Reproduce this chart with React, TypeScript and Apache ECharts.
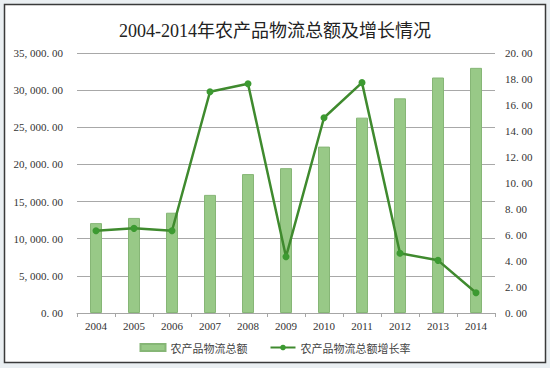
import React, { useEffect, useRef } from "react";
import * as echarts from "echarts";

const years = ["2004", "2005", "2006", "2007", "2008", "2009", "2010", "2011", "2012", "2013", "2014"];
const totalValues = [12100, 12800, 13500, 15900, 18700, 19500, 22400, 26300, 28900, 31700, 33000];
const growthRates = [6.33, 6.51, 6.33, 17.02, 17.64, 4.33, 15.02, 17.72, 4.59, 4.05, 1.56];
const titleText = "2004-2014年农产品物流总额及增长情况";
const barName = "农产品物流总额";
const lineName = "农产品物流总额增长率";

const fontFam = "'Liberation Serif', 'Noto Sans CJK SC', serif";

export default function App() {
  const ref = useRef<HTMLDivElement>(null);
  useEffect(() => {
    document.body.style.margin = "0";
    const chart = echarts.init(ref.current!, null, { renderer: "svg" });
    chart.setOption({
      animation: false,
      backgroundColor: "#eaeff2",
      textStyle: { fontFamily: fontFam },
      graphic: [
        {
          type: "rect",
          z: -10,
          silent: true,
          shape: { x: 4.5, y: 4.5, width: 541, height: 358 },
          style: { fill: "#ffffff", stroke: "#3a3a3a", lineWidth: 1.5 },
        },
      ],
      title: {
        text: titleText,
        left: "center",
        top: 17,
        textStyle: { fontFamily: fontFam, fontSize: 18, fontWeight: "normal", color: "#222" },
      },
      legend: {
        bottom: 10,
        left: "center",
        itemGap: 22,
        itemWidth: 25,
        itemHeight: 7,
        textStyle: { fontFamily: "'Noto Sans CJK SC', sans-serif", fontSize: 11, color: "#444" },
        data: [
          { name: barName, icon: "rect" },
          { name: lineName },
        ],
      },
      grid: { left: 77, right: 55, top: 53, bottom: 55, containLabel: false },
      xAxis: {
        type: "category",
        data: years,
        axisLine: { lineStyle: { color: "#a6a6a6", width: 1 } },
        axisTick: { show: true, alignWithLabel: false, length: 4, lineStyle: { color: "#a6a6a6" } },
        axisLabel: { color: "#333", fontSize: 11, margin: 7, fontFamily: fontFam },
      },
      yAxis: [
        {
          type: "value",
          min: 0,
          max: 35000,
          interval: 5000,
          axisLine: { show: false },
          axisTick: { show: false },
          splitLine: { lineStyle: { color: "#a8a8a8", width: 1 } },
          axisLabel: {
            color: "#333",
            fontSize: 11,
            margin: 14,
            fontFamily: fontFam,
            formatter: (v: number) =>
              v
                .toLocaleString("en-US", { minimumFractionDigits: 2, maximumFractionDigits: 2 })
                .replace(/,/g, ", ")
                .replace(/\./g, ". "),
          },
        },
        {
          type: "value",
          min: 0,
          max: 20,
          interval: 2,
          axisLine: { show: false },
          axisTick: { show: false },
          splitLine: { show: false },
          axisLabel: {
            color: "#333",
            fontSize: 11,
            margin: 10,
            fontFamily: fontFam,
            formatter: (v: number) => v.toFixed(2).replace(/\./g, ". "),
          },
        },
      ],
      series: [
        {
          name: barName,
          type: "bar",
          data: totalValues,
          barWidth: 12,
          itemStyle: { color: "#98c987", borderColor: "#86b676", borderWidth: 1 },
        },
        {
          name: lineName,
          type: "line",
          yAxisIndex: 1,
          data: growthRates,
          symbol: "circle",
          symbolSize: 7,
          lineStyle: { color: "#3f8a2e", width: 2.5 },
          itemStyle: { color: "#3c9a31" },
        },
      ],
    });
    return () => chart.dispose();
  }, []);
  return <div ref={ref} style={{ width: 550, height: 368, position: "absolute", left: 0, top: 0 }} />;
}
